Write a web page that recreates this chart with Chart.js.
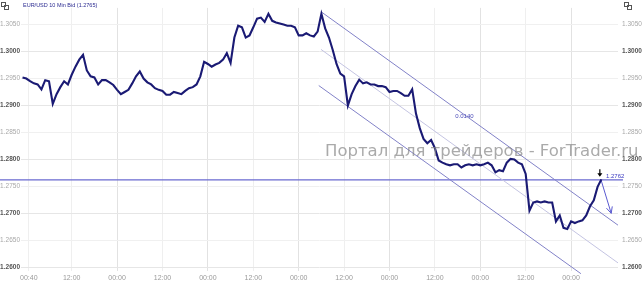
<!DOCTYPE html>
<html>
<head>
<meta charset="utf-8">
<script src="https://cdn.jsdelivr.net/npm/chart.js@4.4.1/dist/chart.umd.min.js"></script>
<style>
  html, body { margin: 0; padding: 0; background: #fff; }
  #wrap { width: 642px; height: 282px; position: relative; }
</style>
</head>
<body>
<div id="wrap"><canvas id="chart" width="642" height="282"></canvas></div>
<script>
// EUR/USD 10 min bid, one reading per hour (hour 0 = first 00:00)
const startHour = -1;
const prices = [
  1.2952, 1.2950, 1.2945, 1.2941, 1.2939, 1.2930, 1.2947, 1.2945, 1.2903, 1.2921, 1.2934,
  1.2945, 1.2939, 1.2957, 1.2972, 1.2985, 1.2994, 1.2965, 1.2954, 1.2952, 1.2939,
  1.2947, 1.2947, 1.2943, 1.2938, 1.2929, 1.2921, 1.2925, 1.2929, 1.2941, 1.2954,
  1.2963, 1.2950, 1.2943, 1.2939, 1.2932, 1.2929, 1.2927, 1.2920, 1.2920, 1.2925,
  1.2923, 1.2921, 1.2927, 1.2932, 1.2934, 1.2939, 1.2954, 1.2981, 1.2977, 1.2972,
  1.2976, 1.2979, 1.2985, 1.2997, 1.2979, 1.3026, 1.3048, 1.3045, 1.3026, 1.3030,
  1.3045, 1.3061, 1.3063, 1.3055, 1.3070, 1.3057, 1.3054, 1.3052, 1.3050, 1.3048,
  1.3048, 1.3045, 1.3030, 1.3030, 1.3034, 1.3030, 1.3028, 1.3037, 1.3070, 1.3043,
  1.3026, 1.3003, 1.2977, 1.2959, 1.2954, 1.2900, 1.2921, 1.2936, 1.2948, 1.2941,
  1.2943, 1.2939, 1.2939, 1.2936, 1.2936, 1.2934, 1.2925, 1.2927, 1.2927, 1.2923,
  1.2918, 1.2918, 1.2930, 1.2885, 1.2858, 1.2838, 1.2830, 1.2836, 1.2821, 1.2798,
  1.2794, 1.2791, 1.2789, 1.2791, 1.2791, 1.2785, 1.2789, 1.2791, 1.2789, 1.2791,
  1.2789, 1.2791, 1.2794, 1.2789, 1.2776, 1.2780, 1.2778, 1.2794, 1.2801, 1.2800,
  1.2794, 1.2791, 1.2773, 1.2705, 1.2720, 1.2722, 1.2720, 1.2722, 1.2720, 1.2720,
  1.2685, 1.2696, 1.2673, 1.2671, 1.2685, 1.2682, 1.2685, 1.2687, 1.2696, 1.2713,
  1.2724, 1.2749, 1.2763
];

const tickHours = [0.67, 12, 24, 36, 48, 60, 72, 84, 96, 108, 120, 132, 144];
const tickLabels = ['00:40', '12:00', '00:00', '12:00', '00:00', '12:00', '00:00',
                    '12:00', '00:00', '12:00', '00:00', '12:00', '00:00'];
const yTicks = [1.2600, 1.2650, 1.2700, 1.2750, 1.2800, 1.2850, 1.2900, 1.2950, 1.3000, 1.3050];

// regression channel (upper / middle / lower), width 0.0140
const channelHours = [77.9, 156.4];
const channelUpper = [1.3074, 1.2678];
const channelMiddle = [1.3004, 1.2608];
const lowerHours = [77.3, 146.6];
const channelLower = [1.2937, 1.2588];

const levelValue = 1.2762;
const levelHours = [-1.4, 156.4];
const lastPrice = 1.2765;
const forecastHours = [152, 154.6];
const forecastPrices = [1.2760, 1.2700];
const channelLabel = { hour: 115.8, price: 1.2880, text: '0.0140' };

const xMin = -1.4, xMax = 156.4, yMin = 1.2593, yMax = 1.3081;

const priceData = prices.map((p, i) => ({ x: startHour + i, y: p }));
const pairs = (xs, ys) => xs.map((v, i) => ({ x: v, y: ys[i] }));

const overlay = {
  id: 'overlay',
  afterDatasetsDraw(chart) {
    const { ctx, scales: { x, y } } = chart;
    ctx.save();

    // watermark
    const wm = 'Портал для трейдеров - ForTrader.ru';
    let size = 17;
    ctx.font = size + 'px "DejaVu Sans"';
    size = size * 313 / ctx.measureText(wm).width;
    ctx.font = size.toFixed(1) + 'px "DejaVu Sans"';
    ctx.fillStyle = 'rgba(130,130,130,0.68)';
    ctx.textBaseline = 'middle';
    ctx.textAlign = 'left';
    ctx.fillText(wm, 325, 152);

    // channel width label
    ctx.font = '6px "Liberation Sans"';
    ctx.fillStyle = '#4a4ab8';
    ctx.textAlign = 'center';
    ctx.fillText(channelLabel.text, x.getPixelForValue(channelLabel.hour), y.getPixelForValue(channelLabel.price));

    // level line runs across the left axis and out to its label
    const ly = y.getPixelForValue(levelValue);
    ctx.strokeStyle = '#6a6ad0';
    ctx.lineWidth = 1.2;
    ctx.beginPath();
    ctx.moveTo(0, ly);
    ctx.lineTo(x.left, ly);
    ctx.moveTo(x.right, ly);
    ctx.lineTo(623, ly);
    ctx.stroke();
    ctx.textAlign = 'left';
    ctx.textBaseline = 'bottom';
    ctx.fillStyle = '#3a3ac0';
    ctx.fillText(levelValue.toFixed(4), 606, ly - 0.5);

    // black marker arrow above last price
    const ax = x.getPixelForValue(forecastHours[0]) - 1.5;
    const ay = y.getPixelForValue(lastPrice);
    ctx.strokeStyle = '#000';
    ctx.fillStyle = '#000';
    ctx.lineWidth = 1.2;
    ctx.beginPath();
    ctx.moveTo(ax, ay - 9);
    ctx.lineTo(ax, ay - 3);
    ctx.stroke();
    ctx.beginPath();
    ctx.moveTo(ax - 2.5, ay - 5);
    ctx.lineTo(ax + 2.5, ay - 5);
    ctx.lineTo(ax, ay - 1.5);
    ctx.closePath();
    ctx.fill();

    // forecast arrow head
    const fx0 = x.getPixelForValue(forecastHours[0]), fy0 = y.getPixelForValue(forecastPrices[0]);
    const fx1 = x.getPixelForValue(forecastHours[1]), fy1 = y.getPixelForValue(forecastPrices[1]);
    const ang = Math.atan2(fy1 - fy0, fx1 - fx0);
    ctx.strokeStyle = '#5a5ad0';
    ctx.lineWidth = 1;
    ctx.beginPath();
    ctx.moveTo(fx1 - 7 * Math.cos(ang - 0.45), fy1 - 7 * Math.sin(ang - 0.45));
    ctx.lineTo(fx1, fy1);
    ctx.lineTo(fx1 - 7 * Math.cos(ang + 0.45), fy1 - 7 * Math.sin(ang + 0.45));
    ctx.stroke();

    // title
    ctx.font = '5.5px "Liberation Sans"';
    ctx.fillStyle = '#2a2a90';
    ctx.textBaseline = 'middle';
    ctx.fillText('EUR/USD 10 Min Bid (' + lastPrice.toFixed(4) + ')', 23, 5);

    // corner icons
    ctx.strokeStyle = '#555';
    ctx.lineWidth = 1;
    [[1.5, 2.5], [624.5, 2.5]].forEach(([ix, iy]) => {
      ctx.strokeRect(ix, iy, 4, 4);
      ctx.strokeRect(ix + 3, iy + 3, 4, 4);
    });
    ctx.restore();
  }
};

const boldTick = i => i % 2 === 0;

new Chart(document.getElementById('chart'), {
  type: 'line',
  data: {
    datasets: [
      { label: 'EUR/USD', data: priceData, borderColor: '#1a1a74', borderWidth: 2.1,
        pointRadius: 0, tension: 0, yAxisID: 'y' },
      { label: 'forecast', data: pairs(forecastHours, forecastPrices), borderColor: '#5a5ad0',
        borderWidth: 1, pointRadius: 0, yAxisID: 'y', clip: false },
      { label: 'upper', data: pairs(channelHours, channelUpper), borderColor: '#8282c8',
        borderWidth: 1, pointRadius: 0, yAxisID: 'y' },
      { label: 'middle', data: pairs(channelHours, channelMiddle), borderColor: '#c4c4e2',
        borderWidth: 1, pointRadius: 0, yAxisID: 'y' },
      { label: 'lower', data: pairs(lowerHours, channelLower), borderColor: '#8282c8',
        borderWidth: 1, pointRadius: 0, yAxisID: 'y', clip: false },
      { label: 'level', data: pairs(levelHours, [levelValue, levelValue]), borderColor: '#6a6ad0',
        borderWidth: 1.2, pointRadius: 0, yAxisID: 'y' }
    ]
  },
  options: {
    responsive: false,
    animation: false,
    events: [],
    layout: { padding: { top: 2, left: 0, right: 0, bottom: 0 } },
    plugins: { legend: { display: false }, tooltip: { enabled: false } },
    scales: {
      x: {
        type: 'linear', min: xMin, max: xMax,
        afterBuildTicks: s => { s.ticks = tickHours.map(v => ({ value: v })); },
        afterFit: s => { s.height = 11; },
        border: { display: false },
        grid: {
          color: c => tickLabels[c.index] === '00:00' ? '#e2e2e2' : '#efefef',
          drawTicks: false
        },
        ticks: {
          autoSkip: false, maxRotation: 0, padding: 3,
          color: '#9a9a9a', font: { size: 7, family: 'Liberation Sans' },
          callback: (v, i) => tickLabels[i]
        }
      },
      y: {
        type: 'linear', position: 'left', min: yMin, max: yMax,
        afterBuildTicks: s => { s.ticks = yTicks.map(v => ({ value: v })); },
        afterFit: s => { s.width = 21; },
        border: { display: false },
        grid: { color: c => boldTick(c.index) ? '#e6e6e6' : '#f0f0f0', drawTicks: false },
        ticks: {
          padding: 1,
          color: c => boldTick(c.index) ? '#555' : '#a8a8a8',
          font: c => ({ size: 6.5, family: 'Liberation Sans', weight: boldTick(c.index) ? 'bold' : 'normal' }),
          callback: v => v.toFixed(4)
        }
      },
      y2: {
        type: 'linear', position: 'right', min: yMin, max: yMax,
        afterBuildTicks: s => { s.ticks = yTicks.map(v => ({ value: v })); },
        afterFit: s => { s.width = 24; },
        border: { display: false },
        grid: { drawOnChartArea: false, drawTicks: false },
        ticks: {
          padding: 4,
          color: c => boldTick(c.index) ? '#555' : '#a8a8a8',
          font: c => ({ size: 6.5, family: 'Liberation Sans', weight: boldTick(c.index) ? 'bold' : 'normal' }),
          callback: v => v.toFixed(4)
        }
      }
    }
  },
  plugins: [overlay]
});
</script>
</body>
</html>
